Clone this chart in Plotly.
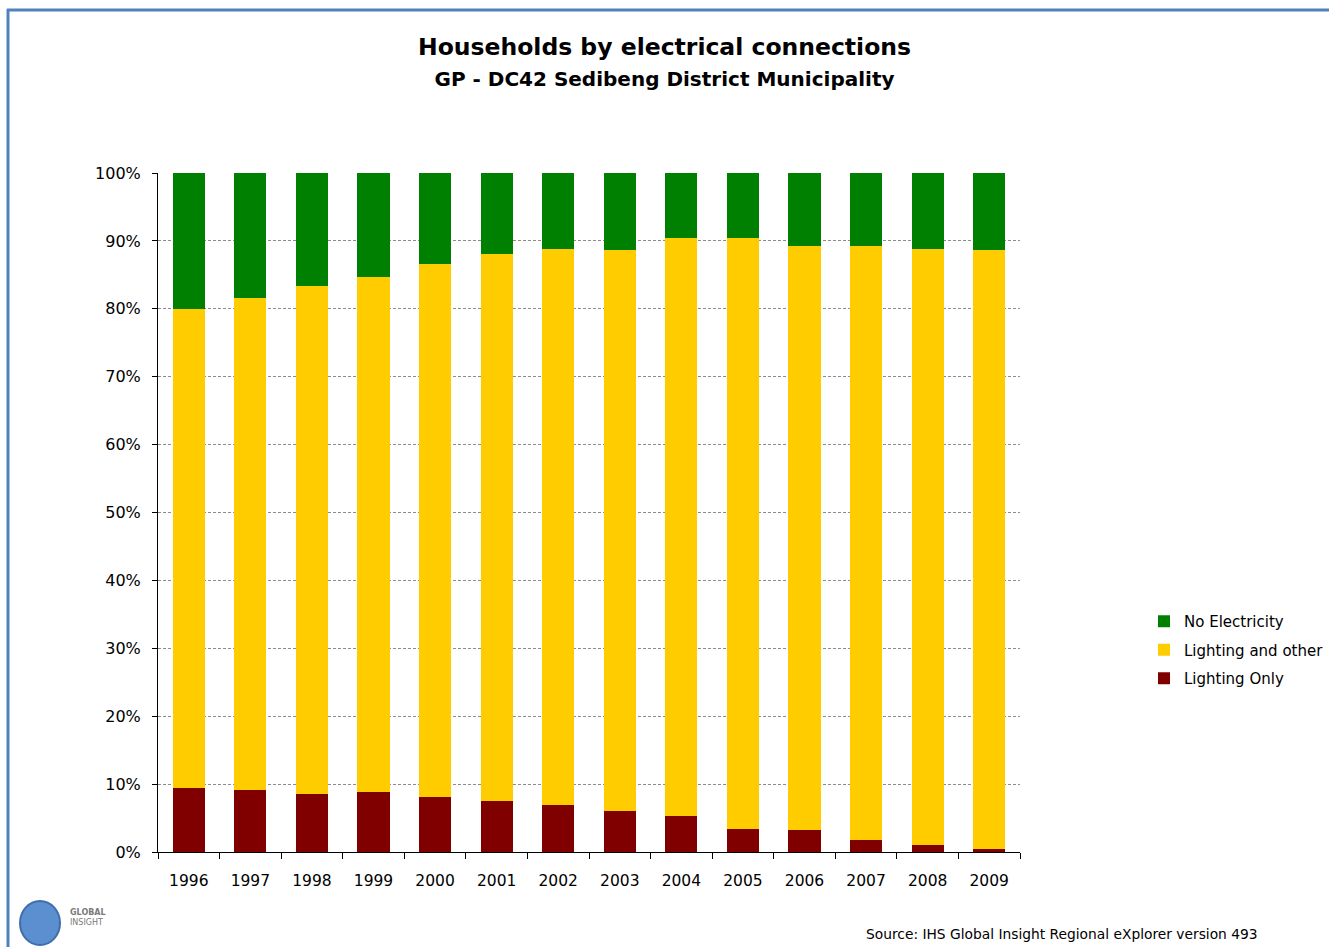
import plotly.graph_objects as go

years = ["1996", "1997", "1998", "1999", "2000", "2001", "2002",
         "2003", "2004", "2005", "2006", "2007", "2008", "2009"]

# Share of households (%) by type of electrical connection
lighting_only = [9.4, 9.1, 8.6, 8.9, 8.1, 7.5, 6.9, 6.1, 5.3, 3.4, 3.2, 1.8, 1.0, 0.4]
lighting_and_other = [70.6, 72.5, 74.7, 75.8, 78.5, 80.5, 81.9, 82.55, 85.06, 86.96, 85.98, 87.38, 87.84, 88.25]
no_electricity = [20.0, 18.4, 16.7, 15.3, 13.4, 12.0, 11.2, 11.35, 9.64, 9.64, 10.82, 10.82, 11.16, 11.35]

y_ticks = [0, 10, 20, 30, 40, 50, 60, 70, 80, 90, 100]
y_tick_labels = [f"{v}%" for v in y_ticks]

FONT = "DejaVu Sans"

# plot-area geometry in pixels, used to place page decorations
L, R, T, B = 158, 1020, 173, 852
W, H = R - L, B - T


def px_x(p):
    return (p - L) / W


def px_y(p):
    return (B - p) / H


fig = go.Figure()
fig.add_trace(go.Bar(x=years, y=lighting_only, name="Lighting Only",
                     legendgroup="c", legendrank=3,
                     marker=dict(color="#800000", line=dict(width=0))))
fig.add_trace(go.Bar(x=years, y=lighting_and_other, name="Lighting and other",
                     legendgroup="b", legendrank=2,
                     marker=dict(color="#FFCC00", line=dict(width=0))))
fig.add_trace(go.Bar(x=years, y=no_electricity, name="No Electricity",
                     legendgroup="a", legendrank=1,
                     marker=dict(color="#008000", line=dict(width=0))))

fig.update_layout(
    barmode="stack",
    bargap=0.48,
    width=1329,
    height=947,
    paper_bgcolor="white",
    plot_bgcolor="white",
    margin=dict(l=L, r=1329 - R, t=T, b=947 - B, autoexpand=False),
    font=dict(family=FONT, color="#000000"),
    title=dict(
        text="<b>Households by electrical connections</b><br>"
             "<b><span style='font-size:20px'>GP - DC42 Sedibeng District Municipality</span></b>",
        x=0.5, xanchor="center", xref="container",
        y=(947 - 55) / 947, yanchor="top",
        font=dict(family=FONT, size=23.5, color="#000000"),
    ),
    legend=dict(
        x=px_x(1144), xanchor="left",
        y=px_y(650), yanchor="middle",
        traceorder="grouped",
        tracegroupgap=6,
        font=dict(family=FONT, size=15, color="#000000"),
        itemwidth=30,
        bgcolor="rgba(0,0,0,0)",
    ),
    showlegend=True,
)

fig.update_xaxes(
    type="category",
    range=[-0.5, 13.5],
    showline=True, linecolor="#000000", linewidth=1,
    ticks="outside", ticklen=6, tickcolor="#000000", tickson="boundaries",
    ticklabelstandoff=14,
    showgrid=False,
    tickfont=dict(family=FONT, size=15.5, color="#000000"),
)
fig.update_yaxes(
    range=[0, 100],
    tickvals=y_ticks, ticktext=y_tick_labels,
    showline=True, linecolor="#000000", linewidth=1,
    ticks="outside", ticklen=5, tickcolor="#000000",
    ticklabelstandoff=8,
    showgrid=True, gridcolor="#8c8c8c", gridwidth=1, griddash="3px,2px",
    zeroline=False,
    tickfont=dict(family=FONT, size=16, color="#000000"),
)

# Outer frame (top and left edges visible)
fig.add_shape(type="line", xref="paper", yref="paper",
              x0=px_x(7), x1=px_x(1335), y0=px_y(10), y1=px_y(10),
              line=dict(color="#4F81BD", width=3), layer="above")
fig.add_shape(type="line", xref="paper", yref="paper",
              x0=px_x(8), x1=px_x(8), y0=px_y(9), y1=px_y(950),
              line=dict(color="#4F81BD", width=3), layer="above")

# Logo mark
fig.add_shape(type="circle", xref="paper", yref="paper",
              x0=px_x(20), x1=px_x(60), y0=px_y(945), y1=px_y(901),
              fillcolor="#5b8fcf", line=dict(color="#3f6fa8", width=2), layer="above")
fig.add_annotation(text="<b>GLOBAL</b><br>INSIGHT", xref="paper", yref="paper",
                   x=px_x(68), y=px_y(917),
                   xanchor="left", yanchor="middle", showarrow=False, align="left",
                   font=dict(family=FONT, size=8, color="#7a7a7a"))

fig.add_annotation(text="Source: IHS Global Insight Regional eXplorer version 493",
                   xref="paper", yref="paper",
                   x=px_x(864), y=px_y(934),
                   xanchor="left", yanchor="middle", showarrow=False,
                   font=dict(family=FONT, size=13.8, color="#000000"))

fig.write_html("out.html")
